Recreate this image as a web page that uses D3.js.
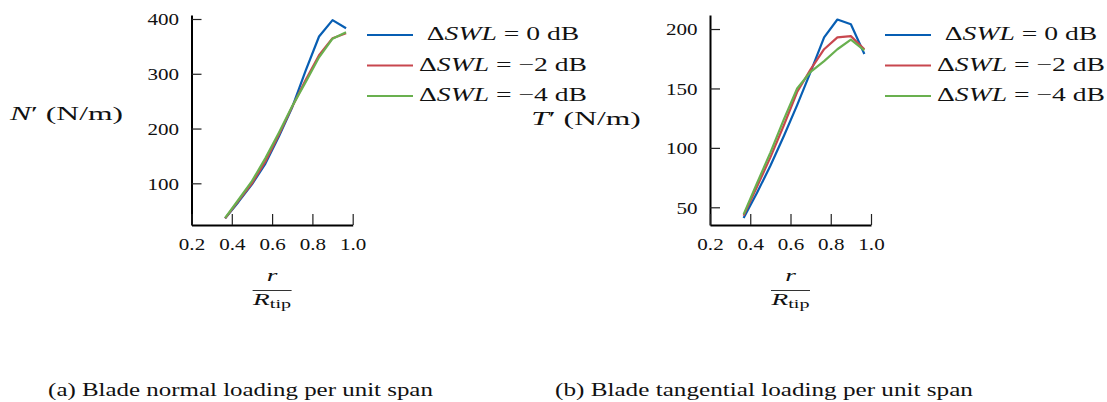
<!DOCTYPE html>
<html>
<head>
<meta charset="utf-8">
<script src="https://cdn.jsdelivr.net/npm/d3@7"></script>
<style>
  body { margin: 0; background: #fff; }
  svg { display: block; }
  text { font-family: "Liberation Serif", "DejaVu Serif", serif; fill: #111; font-weight: 400; }
  .it { font-style: italic; font-weight: 400; }
</style>
</head>
<body>
<div id="chart"></div>
<script>
// radial stations r / R_tip
const rStations = [0.367, 0.433, 0.5, 0.567, 0.633, 0.7, 0.767, 0.833, 0.9, 0.967];

// N' (N/m), normal loading
const normal0dB = [36, 66, 98, 136, 185, 239, 306, 368, 398, 383];
const normalm2dB = [36, 68, 100, 140, 188, 240, 289, 334, 365, 374];
const normalm4dB = [37, 70, 104, 146, 192, 241, 285, 330, 364, 376];

// T' (N/m), tangential loading
const tang0dB = [41, 62, 85, 110, 136, 164, 193, 208, 204, 179];
const tangm2dB = [43, 67, 92, 119, 147, 166, 183, 193, 194, 183];
const tangm4dB = [44, 70, 96, 124, 150, 164, 173, 183, 191, 182];

const seriesDb = ['0', '\u22122', '\u22124'];
const seriesColors = ['#075eb3', '#c8474e', '#69b04f'];

const xTicks = [0.2, 0.4, 0.6, 0.8, 1.0];
const normalTicks = [100, 200, 300, 400];
const tangTicks = [50, 100, 150, 200];

const width = 1107, height = 402;

const svg = d3.select('#chart').append('svg')
  .attr('width', width)
  .attr('height', height);

// stretch a text horizontally about its anchor x
function stretch(sel, k) {
  sel.each(function () {
    const t = d3.select(this);
    const x = +t.attr('x') || 0;
    t.attr('transform', `translate(${x * (1 - k)},0) scale(${k},1)`);
  });
}
// factor so that sample text reaches target width
function fitK(sel, target) {
  return target / sel.node().getComputedTextLength();
}

const panels = [
  {
    left: 191.5, right: 352.7, top: 15, bottom: 225,
    yDomain: [23.9, 407.3], yTicks: normalTicks,
    series: [normal0dB, normalm2dB, normalm4dB],
    ylabel: 'N', ylabelX: 66.5, ylabelY: 120,
    legendX: 367, caption: '(a) Blade normal loading per unit span', captionX: 240.5, captionW: 385
  },
  {
    left: 710, right: 871, top: 15, bottom: 225,
    yDomain: [35.1, 211.8], yTicks: tangTicks,
    series: [tang0dB, tangm2dB, tangm4dB],
    ylabel: 'T', ylabelX: 586, ylabelY: 125,
    legendX: 885, caption: '(b) Blade tangential loading per unit span', captionX: 764, captionW: 418
  }
];

let tickK = null, legendK = null, labelK = null, fracK = null;

panels.forEach((p, pi) => {
  const x = d3.scaleLinear().domain([0.2, 1.0]).range([p.left, p.right]);
  const y = d3.scaleLinear().domain(p.yDomain).range([p.bottom, p.top]);

  const line = d3.line()
    .x((d, i) => x(rStations[i]))
    .y(d => y(d));

  // lines
  p.series.forEach((s, si) => {
    svg.append('path')
      .datum(s)
      .attr('fill', 'none')
      .attr('stroke', seriesColors[si])
      .attr('stroke-width', 2.2)
      .attr('stroke-linejoin', 'round')
      .attr('d', line);
  });

  // axes, ticks pointing inside
  const yAxisG = svg.append('g')
    .attr('transform', `translate(${p.left},0)`)
    .call(d3.axisLeft(y).tickValues(p.yTicks).tickSizeInner(-10).tickSizeOuter(0).tickPadding(12.5));

  const xAxisG = svg.append('g')
    .attr('transform', `translate(0,${p.bottom})`)
    .call(d3.axisBottom(x).tickValues(xTicks).tickFormat(d3.format('.1f')).tickSizeInner(-11).tickSizeOuter(0));

  [yAxisG, xAxisG].forEach(g => {
    g.select('.domain').attr('stroke', '#000').attr('stroke-width', 2);
    g.selectAll('.tick line').attr('stroke', '#222').attr('stroke-width', 1.2);
    g.selectAll('.tick text')
      .attr('font-size', 17)
      .attr('font-family', '"Liberation Serif", serif')
      .attr('fill', '#111');
  });
  xAxisG.selectAll('.tick text').attr('y', 25).attr('dy', '0');
  yAxisG.selectAll('.tick text').attr('dy', '0.34em');

  if (tickK === null) tickK = fitK(yAxisG.selectAll('.tick text').filter(d => d === 400), 31.6);
  stretch(yAxisG.selectAll('.tick text'), tickK);
  stretch(xAxisG.selectAll('.tick text'), tickK);

  // y label
  const yl = svg.append('text')
    .attr('x', p.ylabelX)
    .attr('y', p.ylabelY)
    .attr('text-anchor', 'middle')
    .attr('font-size', 19.5);
  yl.append('tspan').attr('class', 'it').text(p.ylabel);
  yl.append('tspan').text('\u2032 (N/m)');
  if (labelK === null) labelK = fitK(yl, 113);
  stretch(yl, labelK);

  // x label as fraction r / R_tip
  const cx = (p.left + p.right) / 2;
  const fr = svg.append('text')
    .attr('x', cx).attr('y', 281)
    .attr('text-anchor', 'middle')
    .attr('font-size', 17)
    .attr('class', 'it')
    .text('r');
  const fR = svg.append('text')
    .attr('x', cx).attr('y', 305.5)
    .attr('text-anchor', 'middle')
    .attr('font-size', 17);
  fR.append('tspan').attr('class', 'it').text('R');
  fR.append('tspan').attr('font-size', 12.5).attr('dy', 3).text('tip');
  if (fracK === null) fracK = fitK(fR, 38);
  stretch(fr, fracK);
  stretch(fR, fracK);
  svg.append('line')
    .attr('x1', cx - 19.5).attr('x2', cx + 19.5)
    .attr('y1', 290.5).attr('y2', 290.5)
    .attr('stroke', '#333').attr('stroke-width', 1);

  // legend
  seriesDb.forEach((db, si) => {
    const ly = 35 + si * 30.5;
    svg.append('line')
      .attr('x1', p.legendX).attr('x2', p.legendX + 46)
      .attr('y1', ly).attr('y2', ly)
      .attr('stroke', seriesColors[si])
      .attr('stroke-width', 2.2);
    const t = svg.append('text')
      .attr('x', p.legendX + 136)
      .attr('y', ly + 5.5)
      .attr('text-anchor', 'middle')
      .attr('font-size', 18.5);
    t.append('tspan').text('\u0394');
    t.append('tspan').attr('class', 'it').text('SWL');
    t.append('tspan').text(' = ' + db + ' dB');
    if (legendK === null && si === 1) legendK = fitK(t, 168);
    t.attr('class', 'legend-text');
  });

  // caption
  const cap = svg.append('text')
    .attr('x', p.captionX)
    .attr('y', 396)
    .attr('text-anchor', 'middle')
    .attr('font-size', 18)
    .text(p.caption);
  stretch(cap, fitK(cap, p.captionW));
});

stretch(svg.selectAll('.legend-text'), legendK);
</script>
</body>
</html>
